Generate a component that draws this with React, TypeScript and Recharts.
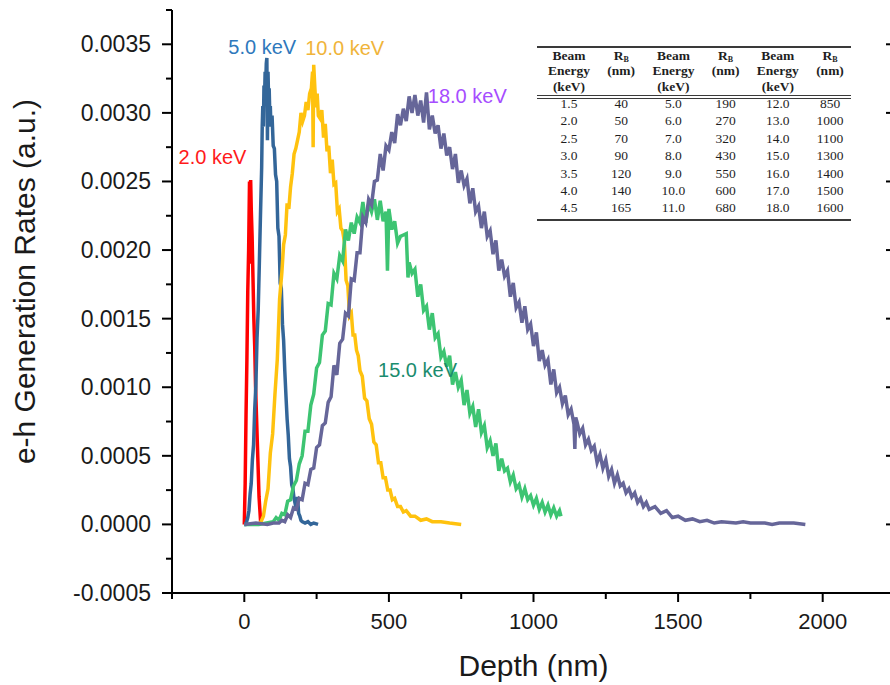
import React from "react";
import { ComposedChart, Line, XAxis, YAxis, ReferenceDot, Label } from "recharts";

// axis ticks (250 nm minor / 500 nm major, 0.00025 minor / 0.0005 major)
const xTicks = [-250, 0, 250, 500, 750, 1000, 1250, 1500, 1750, 2000, 2250];
const xMajorTicks = [0, 500, 1000, 1500, 2000];
const yTicks = [
  -0.0005, -0.00025, 0, 0.00025, 0.0005, 0.00075, 0.001, 0.00125, 0.0015, 0.00175,
  0.002, 0.00225, 0.0025, 0.00275, 0.003, 0.00325, 0.0035, 0.00375,
];
const yMajorTicks = [-0.0005, 0, 0.0005, 0.001, 0.0015, 0.002, 0.0025, 0.003, 0.0035];

// [depth (nm), e-h generation rate (a.u.)]
const kev2: [number, number][] = [
  [0, 0], [3, 0.0003], [6, 0.0008], [9, 0.0012], [12, 0.0017], [15, 0.002], [18, 0.0025],
  [20, 0.0019], [22, 0.00251], [24, 0.0023], [27, 0.0021], [30, 0.0018], [33, 0.0015],
  [36, 0.0013], [39, 0.001], [42, 0.0008], [45, 0.0006], [48, 0.0004], [51, 0.0002],
  [54, 0.0001], [57, 0],
];

const kev5: [number, number][] = [
  [0, 0], [4, 0], [8, 0.00002], [12, 0.00005], [16, 0.0001], [20, 0.00022], [24, 0.0003],
  [28, 0.00047], [32, 0.00058], [36, 0.00084], [40, 0.00101], [44, 0.00136], [48, 0.00156],
  [52, 0.0019], [56, 0.00226], [60, 0.0026], [62, 0.0029], [64, 0.00305], [66, 0.0029],
  [68, 0.0032], [70, 0.0031], [72, 0.0033], [74, 0.0032], [76, 0.00336], [78, 0.0034],
  [80, 0.0028], [82, 0.0033], [84, 0.0031], [86, 0.00318], [88, 0.003], [90, 0.00305],
  [92, 0.0029], [96, 0.00298], [100, 0.00276], [104, 0.00274], [108, 0.00255], [112, 0.0025],
  [116, 0.00216], [120, 0.0021], [124, 0.00176], [128, 0.00172], [132, 0.00146], [136, 0.00134],
  [140, 0.00112], [144, 0.00094], [148, 0.00077], [152, 0.00065], [156, 0.00048], [160, 0.00042],
  [164, 0.00029], [168, 0.00026], [172, 0.00019], [176, 0.00015], [180, 0.0001], [184, 0.0002],
  [188, 0.00008], [192, 0.00006], [196, 0.00003], [200, 0.00002], [210, 0.00001],
  [220, 0.00002], [230, 0], [240, 0.00001], [255, 0],
];

const kev10: [number, number][] = [
  [50, 0], [58, 0.00002], [66, 0.00006], [74, 0.00017], [82, 0.00026], [90, 0.00052],
  [98, 0.00066], [106, 0.00095], [114, 0.0012], [122, 0.00164], [130, 0.00184], [136, 0.00204],
  [142, 0.00211], [148, 0.00234], [154, 0.0023], [160, 0.00246], [166, 0.00256], [172, 0.0027],
  [178, 0.00274], [184, 0.0028], [190, 0.00286], [196, 0.003], [202, 0.00294], [208, 0.00298],
  [214, 0.00308], [220, 0.00302], [226, 0.00314], [232, 0.00318], [236, 0.0033], [238, 0.00275],
  [240, 0.00335], [244, 0.00318], [248, 0.00304], [252, 0.00314], [256, 0.00298], [262, 0.00296],
  [268, 0.00302], [274, 0.00282], [280, 0.00292], [286, 0.00272], [292, 0.00276], [298, 0.00256],
  [304, 0.00266], [310, 0.00248], [316, 0.00249], [322, 0.00228], [328, 0.0023], [334, 0.00216],
  [340, 0.00214], [346, 0.00206], [352, 0.00178], [358, 0.00174], [364, 0.00152], [370, 0.00154],
  [376, 0.00138], [382, 0.00138], [388, 0.00127], [394, 0.00123], [400, 0.00112], [408, 0.00108],
  [416, 0.00092], [424, 0.0009], [432, 0.00077], [440, 0.00073], [448, 0.0006], [456, 0.00058],
  [464, 0.00045], [472, 0.00045], [480, 0.00034], [488, 0.00034], [496, 0.00025], [504, 0.00025],
  [512, 0.00018], [520, 0.00019], [530, 0.00013], [540, 0.00013], [550, 0.00009], [560, 0.0001],
  [575, 0.00006], [590, 0.00006], [610, 0.00003], [630, 0.00004], [650, 0.00002], [680, 0.00002],
  [710, 0.00001], [750, 0],
];

const kev15: [number, number][] = [
  [0, 0], [50, 0], [100, 0.00002], [110, 0.00005], [120, 0.00003], [130, 0.00008], [140, 0.00007],
  [150, 0.00017], [160, 0.00018], [170, 0.00028], [180, 0.00032], [190, 0.00044], [200, 0.0005],
  [210, 0.00068], [220, 0.00068], [230, 0.00087], [240, 0.00095], [250, 0.00114], [260, 0.00118],
  [270, 0.00138], [280, 0.00141], [290, 0.00161], [300, 0.0016], [310, 0.00183], [320, 0.00179],
  [330, 0.00196], [340, 0.00192], [350, 0.00215], [360, 0.00207], [370, 0.0022], [380, 0.00212],
  [390, 0.00224], [400, 0.0022], [410, 0.00235], [420, 0.0022], [430, 0.00234], [440, 0.00228],
  [450, 0.00237], [460, 0.00222], [470, 0.00236], [480, 0.00221], [490, 0.00228], [495, 0.00185],
  [500, 0.0023], [510, 0.00215], [520, 0.00221], [530, 0.00205], [540, 0.0021], [550, 0.00211],
  [560, 0.00212], [566, 0.0018], [570, 0.00191], [580, 0.00183], [590, 0.00186], [600, 0.00166],
  [610, 0.00175], [620, 0.00156], [630, 0.00159], [640, 0.00142], [650, 0.00154], [660, 0.00136],
  [670, 0.00139], [680, 0.00122], [690, 0.00126], [700, 0.00115], [710, 0.00123], [720, 0.00102],
  [730, 0.00111], [740, 0.001], [750, 0.00105], [760, 0.00087], [770, 0.00098], [780, 0.00081],
  [790, 0.00086], [800, 0.00071], [810, 0.00084], [820, 0.00067], [830, 0.00072], [840, 0.00056],
  [850, 0.00061], [860, 0.0005], [870, 0.00059], [880, 0.00039], [890, 0.00048], [900, 0.00039],
  [910, 0.00041], [920, 0.00031], [930, 0.00036], [940, 0.00026], [950, 0.00029], [960, 0.0002],
  [970, 0.00026], [980, 0.00018], [990, 0.00021], [1000, 0.00014], [1010, 0.00019], [1020, 0.00011],
  [1030, 0.00016], [1040, 0.00009], [1050, 0.00014], [1060, 0.00007], [1070, 0.00012],
  [1080, 0.00006], [1090, 0.0001], [1095, 0.00006],
];

const kev18: [number, number][] = [
  [0, 0], [40, 0.00001], [80, 0], [100, 0.00001], [120, 0.00001], [130, 0.00003], [140, 0.00002],
  [150, 0.00007], [160, 0.00005], [170, 0.00012], [180, 0.00011], [190, 0.00019], [200, 0.00018],
  [210, 0.0003], [220, 0.00029], [230, 0.0004], [240, 0.00041], [250, 0.00056], [260, 0.00058],
  [270, 0.00072], [280, 0.00074], [290, 0.00089], [300, 0.00093], [310, 0.00116], [320, 0.00109],
  [330, 0.00132], [340, 0.00135], [350, 0.00154], [360, 0.00152], [370, 0.00179], [380, 0.00178],
  [390, 0.00198], [400, 0.00198], [410, 0.00224], [420, 0.0022], [430, 0.00237], [440, 0.00233],
  [450, 0.0025], [460, 0.00251], [470, 0.0027], [480, 0.00258], [490, 0.00276], [500, 0.00273],
  [510, 0.00286], [520, 0.00278], [530, 0.00299], [540, 0.00291], [550, 0.00303], [560, 0.00294],
  [570, 0.00312], [580, 0.003], [590, 0.00313], [600, 0.00298], [610, 0.00309], [620, 0.00293],
  [630, 0.00315], [640, 0.00288], [650, 0.00298], [660, 0.00285], [670, 0.00291], [680, 0.00274],
  [690, 0.00285], [700, 0.00269], [710, 0.00275], [720, 0.00259], [730, 0.0027], [740, 0.00249],
  [750, 0.00258], [760, 0.00247], [770, 0.00252], [780, 0.00234], [790, 0.00245], [800, 0.00228],
  [810, 0.00232], [820, 0.00216], [830, 0.00228], [840, 0.0021], [850, 0.00214], [860, 0.00197],
  [870, 0.00207], [880, 0.00185], [890, 0.00193], [900, 0.00181], [910, 0.00185], [920, 0.00166],
  [930, 0.00176], [940, 0.00158], [950, 0.00162], [960, 0.00147], [970, 0.00159], [980, 0.00142],
  [990, 0.00146], [1000, 0.0013], [1010, 0.0014], [1020, 0.00119], [1030, 0.00127], [1040, 0.00116],
  [1050, 0.0012], [1060, 0.00102], [1070, 0.00113], [1080, 0.00096], [1090, 0.001], [1100, 0.00088],
  [1110, 0.00094], [1120, 0.0008], [1130, 0.00084], [1140, 0.00073], [1143, 0.00055],
  [1146, 0.00078], [1150, 0.00075], [1160, 0.00066], [1170, 0.0007], [1180, 0.00058],
  [1190, 0.00062], [1200, 0.00054], [1210, 0.00057], [1220, 0.00045], [1230, 0.00051],
  [1240, 0.00041], [1250, 0.00047], [1260, 0.00035], [1270, 0.0004], [1280, 0.0003],
  [1290, 0.00036], [1300, 0.00028], [1310, 0.0003], [1320, 0.00023], [1330, 0.00026],
  [1340, 0.0002], [1350, 0.00023], [1360, 0.00016], [1370, 0.00019], [1380, 0.00013],
  [1390, 0.00016], [1400, 0.00011], [1420, 0.00013], [1440, 0.00008], [1460, 0.0001],
  [1480, 0.00005], [1500, 0.00006], [1525, 0.00003], [1550, 0.00004], [1575, 0.00002],
  [1600, 0.00003], [1625, 0.00001], [1650, 0.00002], [1700, 0.00001], [1725, 0.00002],
  [1750, 0.00001], [1800, 0.00001], [1825, 0], [1850, 0.00001], [1900, 0.00001], [1940, 0],
];

// table inset: beam energy (keV) and R_B (nm)
const energyA = ["1.5", "2.0", "2.5", "3.0", "3.5", "4.0", "4.5"];
const rangeA = ["40", "50", "70", "90", "120", "140", "165"];
const energyB = ["5.0", "6.0", "7.0", "8.0", "9.0", "10.0", "11.0"];
const rangeB = ["190", "270", "320", "430", "550", "600", "680"];
const energyC = ["12.0", "13.0", "14.0", "15.0", "16.0", "17.0", "18.0"];
const rangeC = ["850", "1000", "1100", "1300", "1400", "1500", "1600"];

const series = [
  { name: "2.0 keV", pts: kev2, color: "#FF0000" },
  { name: "5.0 keV", pts: kev5, color: "#336699" },
  { name: "10.0 keV", pts: kev10, color: "#FFC20E" },
  { name: "15.0 keV", pts: kev15, color: "#3DC472" },
  { name: "18.0 keV", pts: kev18, color: "#666699" },
];

// curve captions, anchored in data space
const captions = [
  { text: "2.0 keV", d: -110, v: 0.00268, color: "#FF1A1A" },
  { text: "5.0 keV", d: 62, v: 0.00348, color: "#2E78BC" },
  { text: "10.0 keV", d: 347, v: 0.003477, color: "#F0B43A" },
  { text: "18.0 keV", d: 771, v: 0.003124, color: "#A64DFF" },
  { text: "15.0 keV", d: 599, v: 0.001123, color: "#1A8C6E" },
];

const SANS = '"Liberation Sans", Arial, sans-serif';
const SERIF = '"Liberation Serif", "Times New Roman", serif';

function BottomTick(p: any) {
  const { x, y, payload } = p;
  const major = xMajorTicks.includes(payload.value);
  return (
    <g>
      <line x1={x} y1={y} x2={x} y2={y + (major ? 9 : 6)} stroke="#000" strokeWidth={2} />
      {major && (
        <text x={x} y={y + 28} textAnchor="middle" dominantBaseline="central" fontSize={22} fill="#1a1a1a">
          {payload.value}
        </text>
      )}
    </g>
  );
}

function TopTick(p: any) {
  const { x, y, payload } = p;
  const major = xMajorTicks.includes(payload.value);
  return <line x1={x} y1={y} x2={x} y2={y + (major ? 9 : 5)} stroke="#000" strokeWidth={2} />;
}

function LeftTick(p: any) {
  const { x, y, payload } = p;
  const major = yMajorTicks.includes(payload.value);
  return (
    <g>
      <line x1={x - (major ? 10 : 6)} y1={y} x2={x} y2={y} stroke="#000" strokeWidth={2} />
      {major && (
        <text x={x - 21} y={y} textAnchor="end" dominantBaseline="central" fontSize={23} fill="#1a1a1a">
          {payload.value.toFixed(4)}
        </text>
      )}
    </g>
  );
}

function RightTick(p: any) {
  const { x, y } = p;
  return <line x1={x - 9} y1={y} x2={x} y2={y} stroke="#000" strokeWidth={2} />;
}

function XTitle(p: any) {
  const vb = p.viewBox ?? { x: 172, y: 593, width: 723, height: 92 };
  return (
    <text x={vb.x + vb.width / 2} y={vb.y + 72} textAnchor="middle" dominantBaseline="central" fontSize={30} fill="#1a1a1a">
      Depth (nm)
    </text>
  );
}

function YTitle(p: any) {
  const vb = p.viewBox ?? { x: 0, y: 10, width: 172, height: 583 };
  const cx = vb.x + 24;
  const cy = vb.y + vb.height / 2 - 20;
  return (
    <text x={cx} y={cy} transform={`rotate(-90 ${cx} ${cy})`} textAnchor="middle" dominantBaseline="central" fontSize={30} fill="#1a1a1a">
      e-h Generation Rates (a.u.)
    </text>
  );
}

function RangeTable() {
  const colCenter = (i: number) => 32 + 52.2 * i;
  const rowY = (i: number) => 104 + 17.4 * i;
  const headY = [55.7, 71.2, 86.7];
  const cols = [energyA, rangeA, energyB, rangeB, energyC, rangeC];
  const cell = (key: string, i: number, cy: number, content: React.ReactNode, bold = false) => (
    <div
      key={key}
      style={{
        position: "absolute",
        left: colCenter(i) - 30,
        width: 60,
        top: cy - 8,
        lineHeight: "16px",
        textAlign: "center",
        fontWeight: bold ? 700 : 400,
      }}
    >
      {content}
    </div>
  );
  const rule = (top: number, h = 1.5) => (
    <div key={`r${top}`} style={{ position: "absolute", left: 0, width: 314, top, height: h, background: "#3a3a3a" }} />
  );
  return (
    <div style={{ position: "absolute", left: 537, top: 0, width: 314, height: 230, fontFamily: SERIF, fontSize: 13.5, color: "#1e1e1e" }}>
      {rule(46)}
      {rule(95.2, 1.3)}
      {rule(98, 1.3)}
      {rule(219.3)}
      {[0, 2, 4].map((i) =>
        ["Beam", "Energy", "(keV)"].map((t, k) => cell(`h${i}${k}`, i, headY[k], t, true))
      )}
      {[1, 3, 5].map((i) => [
        cell(`h${i}0`, i, headY[0], <span>R<sub style={{ fontSize: 8, verticalAlign: "-2px" }}>B</sub></span>, true),
        cell(`h${i}1`, i, headY[1], "(nm)", true),
      ])}
      {cols.map((col, i) => col.map((t, r) => cell(`c${i}${r}`, i, rowY(r), t)))}
    </div>
  );
}

export default function App() {
  return (
    <div style={{ position: "absolute", left: 0, top: 0, width: 890, height: 685, overflow: "hidden", background: "#fff", fontFamily: SANS }}>
      <ComposedChart width={900} height={685} margin={{ top: 10, right: 0, bottom: 0, left: 0 }}>
        <XAxis
          xAxisId="x"
          orientation="bottom"
          type="number"
          dataKey="d"
          domain={[-250, 2250]}
          allowDataOverflow
          ticks={xTicks}
          interval={0}
          tickSize={0}
          tickMargin={0}
          height={92}
          axisLine={{ stroke: "#000", strokeWidth: 2 }}
          tick={(p: any) => <BottomTick {...p} />}
          label={<Label content={(p: any) => <XTitle {...p} />} />}
        />
        <XAxis
          xAxisId="xt"
          orientation="top"
          type="number"
          domain={[-250, 2250]}
          allowDataOverflow
          ticks={xTicks}
          interval={0}
          tickSize={0}
          tickMargin={0}
          height={0}
          axisLine={{ stroke: "#000", strokeWidth: 2 }}
          tick={(p: any) => <TopTick {...p} />}
        />
        <YAxis
          yAxisId="y"
          orientation="left"
          type="number"
          domain={[-0.0005, 0.00375]}
          allowDataOverflow
          ticks={yTicks}
          interval={0}
          tickSize={0}
          tickMargin={0}
          width={172}
          axisLine={{ stroke: "#000", strokeWidth: 2 }}
          tick={(p: any) => <LeftTick {...p} />}
          label={<Label content={(p: any) => <YTitle {...p} />} />}
        />
        <YAxis
          yAxisId="yr"
          orientation="right"
          type="number"
          domain={[-0.0005, 0.00375]}
          allowDataOverflow
          ticks={yMajorTicks}
          interval={0}
          tickSize={0}
          tickMargin={0}
          width={5}
          axisLine={{ stroke: "#000", strokeWidth: 2 }}
          tick={(p: any) => <RightTick {...p} />}
        />
        {series.map((s) => (
          <Line
            key={s.name}
            xAxisId="x"
            yAxisId="y"
            data={s.pts.map(([d, v]) => ({ d, v }))}
            dataKey="v"
            type="linear"
            stroke={s.color}
            strokeWidth={3.5}
            strokeLinejoin="miter"
            dot={false}
            activeDot={false}
            isAnimationActive={false}
          />
        ))}
        {captions.map((c) => (
          <ReferenceDot
            key={c.text}
            xAxisId="x"
            yAxisId="y"
            x={c.d}
            y={c.v}
            r={0}
            fill="none"
            stroke="none"
            label={{ value: c.text, position: "center", fill: c.color, fontSize: 20 }}
          />
        ))}
      </ComposedChart>
      <RangeTable />
    </div>
  );
}
